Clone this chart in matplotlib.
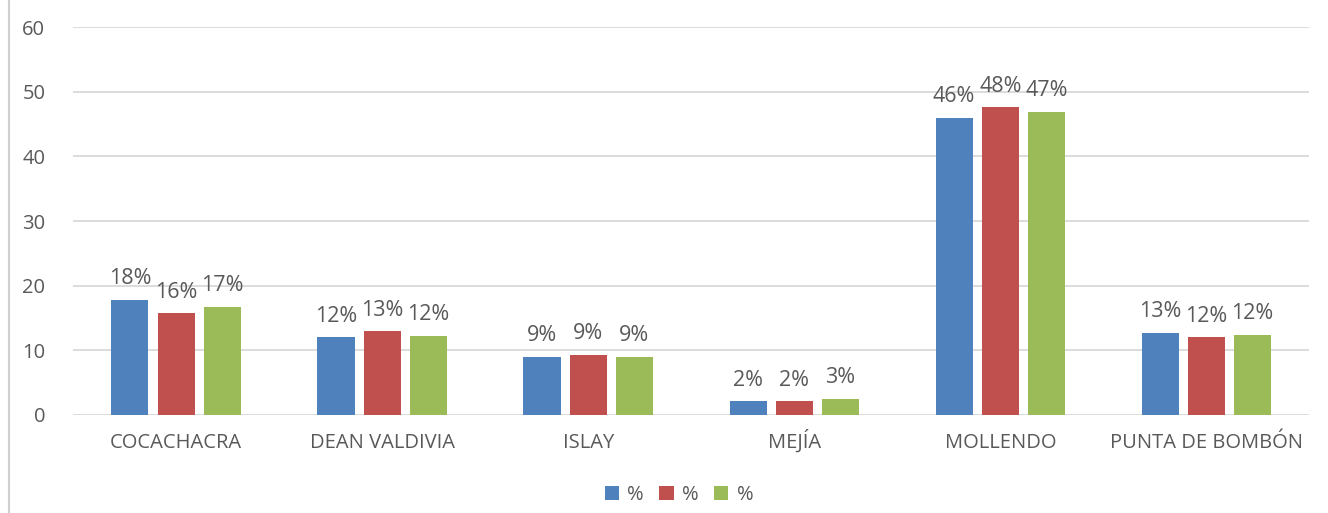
import numpy as np
import matplotlib.pyplot as plt
from matplotlib.lines import Line2D

plt.rcParams['font.family'] = ['Open Sans', 'DejaVu Sans']

categories = ['COCACHACRA', 'DEAN VALDIVIA', 'ISLAY', 'MEJÍA', 'MOLLENDO', 'PUNTA DE BOMBÓN']
serie1 = [17.8, 12.0, 9.0, 2.1, 46.0, 12.7]
serie2 = [15.7, 12.9, 9.3, 2.1, 47.6, 12.0]
serie3 = [16.7, 12.2, 9.0, 2.5, 46.9, 12.4]
series_names = ['%', '%', '%']
colors = ['#4F81BD', '#C0504D', '#9BBB59']

txt = '#595959'
fs = 14.5
fig = plt.figure(figsize=(13.28, 5.13), dpi=100)
ax = fig.add_axes([0.055, 0.1916, 0.931, 0.7552])

x = np.arange(len(categories))
w = 0.18
step = 0.224
for i, (vals, c, name) in enumerate(zip([serie1, serie2, serie3], colors, series_names)):
    bars = ax.bar(x + (i - 1) * step, vals, width=w, color=c, label=name, zorder=3)
    for b, v in zip(bars, vals):
        ax.text(b.get_x() + b.get_width() / 2, v + 2.4, '%d%%' % int(v + 0.5),
                ha='center', va='baseline', fontsize=15.5, color=txt, zorder=4)

ax.set_xlim(-0.5, len(categories) - 0.5)
ax.set_ylim(0, 60)
ax.set_yticks(range(0, 61, 10))
ax.set_xticks(x)
ax.set_xticklabels(categories)
ax.tick_params(axis='both', length=0, colors=txt, labelsize=fs)
ax.tick_params(axis='y', pad=20)
ax.tick_params(axis='x', pad=24)
for lab in ax.get_xticklabels():
    lab.set_va('baseline')
ax.grid(axis='y', color='#D9D9D9', linewidth=1.3, zorder=0)
for s in ax.spines.values():
    s.set_visible(False)

ax.legend(loc='upper center', bbox_to_anchor=(0.49, -0.135), ncol=3, frameon=False,
          fontsize=fs, labelcolor=txt, handlelength=0.7, handleheight=0.7,
          handletextpad=0.4, columnspacing=0.8)

fig.add_artist(Line2D([0.0065, 0.0065], [0, 1], color='#D0D0D0', linewidth=1.5))

fig.savefig('out.png', dpi=100)
